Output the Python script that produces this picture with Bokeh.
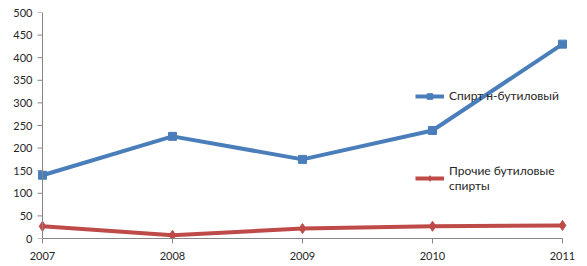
import math
from bokeh.plotting import figure
from bokeh.models import Range1d, FixedTicker, Legend, LegendItem, Span
from bokeh.embed import file_html
from bokeh.resources import INLINE

years = [2007, 2008, 2009, 2010, 2011]
butanol = [140, 226, 175, 239, 430]
other = [27, 7, 22, 27, 29]
y_ticks = list(range(0, 501, 50))
name1 = "Спирт н-бутиловый"
name2 = "Прочие бутиловые\nспирты"

FONT = "Lato"
AXIS = "#868686"
TXT = "#262626"
L, R = 34, 17
px_per_year = 130.0
x0 = 2007 - (42 - L) / px_per_year
x1 = 2011 + (570 - 562) / px_per_year

p = figure(width=587, height=266, output_backend="svg", toolbar_location=None,
           x_range=Range1d(x0, x1), y_range=Range1d(0, 500),
           min_border_left=L, min_border_right=R, min_border_top=12, min_border_bottom=28)
p.outline_line_color = None
p.grid.visible = False
p.background_fill_color = "white"

# y axis line and outward ticks at the first category
p.add_layout(Span(location=years[0], dimension="height", line_color=AXIS, line_width=1))
p.ray(x=[years[0]] * len(y_ticks), y=y_ticks, length=5, length_units="screen",
      angle=math.pi, line_color=AXIS, line_width=1)

blue = "#4A7EBB"
red = "#BE4B48"
r1l = p.line(years, butanol, line_color=blue, line_width=4)
r1m = p.scatter(years, butanol, marker="square", size=8, fill_color=blue, line_color=blue)
r2l = p.line(years, other, line_color=red, line_width=4)
r2m = p.scatter(years, other, marker="diamond", size=10, fill_color=red, line_color=red)

# x axis
xa = p.xaxis[0]
xa.ticker = FixedTicker(ticks=years)
xa.bounds = (2007, 2011)
xa.axis_line_color = AXIS
xa.major_tick_line_color = AXIS
xa.minor_tick_line_color = None
xa.major_tick_in = 0
xa.major_tick_out = 5
xa.major_label_standoff = 8
xa.major_label_text_font = FONT
xa.major_label_text_font_size = "11px"
xa.major_label_text_color = TXT

# y axis labels (line and ticks drawn above)
ya = p.yaxis[0]
ya.ticker = FixedTicker(ticks=y_ticks)
ya.axis_line_color = None
ya.major_tick_line_color = None
ya.minor_tick_line_color = None
ya.major_tick_in = 0
ya.major_tick_out = 0
ya.major_label_standoff = 2
ya.major_label_text_font = FONT
ya.major_label_text_font_size = "11px"
ya.major_label_text_color = TXT

legend = Legend(items=[LegendItem(label=name1, renderers=[r1l, r1m]),
                       LegendItem(label=name2, renderers=[r2l, r2m])],
                location=(381, 45), spacing=60,
                glyph_width=29, glyph_height=14, label_standoff=5,
                label_text_font=FONT, label_text_font_size="12px",
                label_text_line_height=1.1,
                label_text_color=TXT,
                border_line_alpha=0, background_fill_alpha=0, padding=0, margin=0)
p.add_layout(legend)

open("out.html", "w").write(file_html(p, INLINE))
